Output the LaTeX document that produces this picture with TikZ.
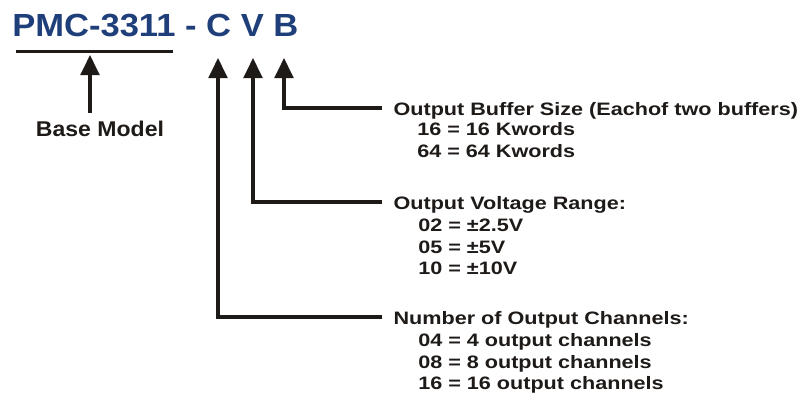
\documentclass[tikz,border=0pt]{standalone}
\usepackage{fontspec}
\setmainfont{Liberation Sans}
\newfontfamily\widefont[FakeStretch=1.08]{Liberation Sans}
\newfontfamily\labelfont[FakeStretch=1.2]{Liberation Sans}
\usetikzlibrary{arrows.meta}
\usepackage{xcolor}
\definecolor{pmcblue}{HTML}{1F3F7A}
\definecolor{pmcink}{HTML}{1E1A18}

\begin{document}
\begin{tikzpicture}[x=0.75pt, y=-0.75pt,
    pointer/.style={pmcink, line width=2.6pt, -{Triangle[width=14pt,length=15pt]}},
    field/.style={anchor=west, inner xsep=8.5pt, inner ysep=0pt, text height=10.5pt,
      text depth=0pt, text=pmcink, font=\labelfont\bfseries\fontsize{13.5pt}{16pt}\selectfont},
    choice/.style={anchor=base west, inner sep=0pt, text=pmcink,
      font=\labelfont\bfseries\fontsize{13.5pt}{16pt}\selectfont}]
    \useasboundingbox (0,0) rectangle (803,400);
    % part number
    \node[anchor=base west, inner sep=0pt, text=pmcblue,
      font=\widefont\bfseries\fontsize{24pt}{28pt}\selectfont] (title) at (12,36) {PMC-3311 - C V B};
    \draw[pmcink, line width=2.6pt] (16,51.5) -- (173,51.5);
    \coordinate (tipM) at (90,55);
    \coordinate (tipC) at (218,58);
    \coordinate (tipV) at (253,58);
    \coordinate (tipB) at (284,58);
    % base model
    \node[anchor=base, inner sep=5.6pt, text=pmcink,
      font=\widefont\bfseries\fontsize{16pt}{19pt}\selectfont] (model) at (100,136) {Base Model};
    \draw[pointer] (model.north -| tipM) -- (tipM);
    % buffer size
    \node[field] (buf) at (382,108) {Output Buffer Size (Eachof two buffers)};
    \foreach \txt [count=\i] in {16 = 16 Kwords, 64 = 64 Kwords}
      \node[choice] (buf\i) at (417,{114+21.5*\i}) {\txt};
    \draw[pointer] (buf.west) -| (tipB);
    % voltage range
    \node[field] (volt) at (382,202) {Output Voltage Range:};
    \foreach \txt [count=\i] in {02 = ±2.5V, 05 = ±5V, 10 = ±10V}
      \node[choice] (volt\i) at (418,{210+21.5*\i}) {\txt};
    \draw[pointer] (volt.west) -| (tipV);
    % channels
    \node[field] (chan) at (382,317) {Number of Output Channels:};
    \foreach \txt [count=\i] in {04 = 4 output channels, 08 = 8 output channels, 16 = 16 output channels}
      \node[choice] (chan\i) at (418,{325+21.5*\i}) {\txt};
    \draw[pointer] (chan.west) -| (tipC);
\end{tikzpicture}
\end{document}
